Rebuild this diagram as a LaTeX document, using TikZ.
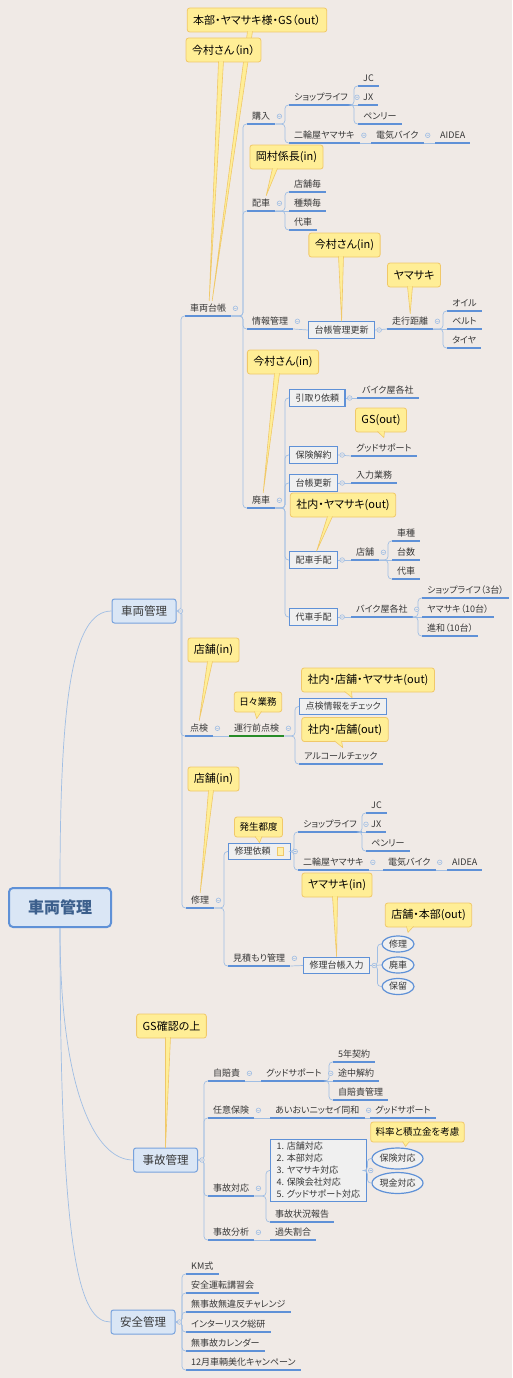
\documentclass[tikz,border=0pt]{standalone}
\usepackage{fontspec}
\setmainfont{Noto Sans CJK JP}[RawFeature=+palt]
\usepackage{xcolor}
\definecolor{PaperBg}    {RGB}{240,234,230}
\definecolor{LineBlue}   {RGB}{95,145,215}
\definecolor{BranchBlue} {RGB}{160,190,228}
\definecolor{BoxFill}    {RGB}{240,240,240}
\definecolor{TopicFill}  {RGB}{218,230,245}
\definecolor{RootText}   {RGB}{60,95,140}
\definecolor{NoteYellow} {RGB}{255,238,150}
\definecolor{NoteEdge}   {RGB}{240,200,105}
\definecolor{InkGray}    {RGB}{55,55,55}
\definecolor{CheckGreen} {RGB}{40,140,40}
\usepackage{tikz}
\usetikzlibrary{shapes.geometric, calc}

\begin{document}
\begin{tikzpicture}[
  x=1pt, y=1pt,
  font=\fontsize{9}{11}\selectfont,
  uline/.style={draw=#1, line width=1.1pt},
  topic/.style={
    anchor=south west, inner xsep=5pt, inner ysep=3pt,
    text height=7.5pt, text depth=1.5pt, text=InkGray,
    append after command={(\tikzlastnode.south west)
      edge[uline=#1] (\tikzlastnode.south east)}},
  topic/.default=LineBlue,
  boxed/.style={
    draw=LineBlue, line width=1.2pt, fill=BoxFill,
    anchor=west, inner xsep=6pt, inner ysep=0pt,
    minimum height=16.5pt, text height=7.5pt, text depth=1.5pt,
    text=InkGray},
  listbox/.style={
    draw=LineBlue, line width=1.2pt, fill=BoxFill,
    anchor=west, align=left, inner xsep=6pt, inner ysep=3pt,
    font=\fontsize{9}{12}\selectfont, text=InkGray},
  oval/.style={ellipse,
    draw=LineBlue, line width=1.2pt, fill=BoxFill,
    inner sep=0pt, minimum width=32pt, minimum height=16pt,
    text=InkGray},
  mainbox/.style={
    draw=LineBlue!85, line width=1pt, fill=TopicFill,
    rounded corners=2.5pt, font=\fontsize{11.5}{13}\selectfont,
    text=InkGray, minimum width=64pt, minimum height=24pt},
  rootbox/.style={
    draw=LineBlue, line width=2pt, fill=TopicFill,
    rounded corners=4pt, font=\fontsize{16}{18}\selectfont\bfseries,
    text=RootText, minimum width=102pt, minimum height=39pt},
  note/.style={
    draw=NoteEdge, line width=0.8pt, fill=NoteYellow,
    rounded corners=2.5pt, font=\fontsize{11}{13}\selectfont,
    inner xsep=6pt, minimum height=24pt},
  smallnote/.style={note,
    font=\fontsize{9.5}{11}\selectfont,
    inner xsep=5pt, minimum height=20pt},
  tail/.style={
    fill=NoteYellow, draw=NoteEdge,
    line width=0.6pt, line join=round},
  br/.style={draw=BranchBlue, line width=0.7pt, rounded corners=3.5pt},
  branch/.style={
    to path={-| ($(\tikztotarget)+(-4,0)$) -- (\tikztotarget)}},
  mk/.style={draw=BranchBlue, fill=PaperBg, line width=0.6pt}
]
\useasboundingbox (0,0) rectangle (512,-1378);
\fill[PaperBg] (0,0) rectangle (512,-1378);

\node[rootbox] (root) at (60,-907.5) {車両管理};
\node[mainbox] (kanri) at (144,-611) {車両管理};
\node[mainbox] (jiko) at (165.5,-1160) {事故管理};
\node[mainbox] (anzen) at (143,-1322) {安全管理};

\node[topic] (daicho) at (185,-316) {車両台帳};
\node[topic] (kounyu) at (247,-124) {購入};
\node[topic] (shop1) at (289,-105) {ショップライフ};
\node[topic] (jc1) at (358,-86) {JC};
\node[topic] (jx1) at (358,-105) {JX};
\node[topic] (penry1) at (358,-124) {ペンリー};
\node[topic] (yama1) at (289,-143) {二輪屋ヤマサキ};
\node[topic] (denki1) at (371,-143) {電気バイク};
\node[topic] (aidea1) at (435,-143) {AIDEA};
\node[topic] (haisha) at (247,-211) {配車};
\node[topic] (tenpo1) at (289,-192) {店舗毎};
\node[topic] (shurui) at (289,-211) {種類毎};
\node[topic] (daisha1) at (289,-230) {代車};
\node[topic] (joho) at (247,-329) {情報管理};
\node[boxed] (kousin) at (308,-330) {台帳管理更新};
\node[topic] (soukou) at (387,-329) {走行距離};
\node[topic] (oil) at (447,-311) {オイル};
\node[topic] (belt) at (447,-329) {ベルト};
\node[topic] (tire) at (447,-348) {タイヤ};
\node[topic] (haiki) at (247,-508) {廃車};
\node[boxed] (hikitori) at (289,-398) {引取り依頼};
\node[topic] (bike1) at (357,-398) {バイク屋各社};
\node[boxed] (kaiyaku) at (289,-455) {保険解約};
\node[topic] (good1) at (351,-456) {グッドサポート};
\node[boxed] (kousin2) at (289,-483) {台帳更新};
\node[topic] (nyuryoku) at (351,-483) {入力業務};
\node[boxed] (tehai) at (289,-560) {配車手配};
\node[topic] (tenpo2) at (351,-560) {店舗};
\node[topic] (shashu) at (392,-541) {車種};
\node[topic] (daisu) at (392,-560) {台数};
\node[topic] (daisha2) at (392,-579) {代車};
\node[boxed] (daitehai) at (289,-617) {代車手配};
\node[topic] (bike2) at (351,-617) {バイク屋各社};
\node[topic] (shop3) at (422,-598) {ショップライフ（3台）};
\node[topic] (yama10) at (422,-617) {ヤマサキ（10台）};
\node[topic] (shinwa) at (422,-636) {進和（10台）};

\node[topic] (tenken) at (185,-736) {点検};
\node[topic=CheckGreen] (unko) at (229,-736) {運行前点検};
\node[boxed] (check) at (299,-706.5) {点検情報をチェック};
\node[topic] (alcohol) at (299,-764) {アルコールチェック};

\node[topic] (shuri) at (186,-908) {修理};
\node[boxed] (irai) at (228,-851.5) {修理依頼\makebox[14pt]{}};
\node[topic] (shop2) at (298,-832) {ショップライフ};
\node[topic] (jc2) at (366,-813) {JC};
\node[topic] (jx2) at (366,-832) {JX};
\node[topic] (penry2) at (366,-851) {ペンリー};
\node[topic] (yama2) at (298,-870) {二輪屋ヤマサキ};
\node[topic] (denki2) at (383,-870) {電気バイク};
\node[topic] (aidea2) at (447,-870) {AIDEA};
\node[topic] (mitsumori) at (228,-966) {見積もり管理};
\node[boxed] (daicho2) at (303,-965.5) {修理台帳入力};
\node[oval] (o1) at (398,-944) {修理};
\node[oval] (o2) at (398,-965) {廃車};
\node[oval] (o3) at (398,-986.5) {保留};

\node[topic] (jibai) at (208,-1081) {自賠責};
\node[topic] (good2) at (261,-1081) {グッドサポート};
\node[topic] (keiyaku) at (333,-1062) {5年契約};
\node[topic] (tochu) at (333,-1081) {途中解約};
\node[topic] (jibaikanri) at (333,-1100) {自賠責管理};
\node[topic] (nini) at (208,-1118) {任意保険};
\node[topic] (aioi) at (270,-1118) {あいおいニッセイ同和};
\node[topic] (good3) at (370,-1118) {グッドサポート};
\node[topic] (taiou) at (208,-1196) {事故対応};
\node[listbox] (taiolist) at (270,-1170.5)
  {1. 店舗対応\\2. 本部対応\\3. ヤマサキ対応\\4. 保険会社対応\\5. グッドサポート対応};
\node[oval, minimum width=51pt, minimum height=21pt] (o4) at (397.5,-1158.5) {保険対応};
\node[oval, minimum width=51pt, minimum height=21pt] (o5) at (397.5,-1183) {現金対応};
\node[topic] (houkoku) at (270,-1222) {事故状況報告};
\node[topic] (bunseki) at (208,-1240) {事故分析};
\node[topic] (kashitsu) at (270,-1240) {過失割合};

\node[topic] (km) at (186,-1274) {KM式};
\node[topic] (koushu) at (186,-1293) {安全運転講習会};
\node[topic] (challenge) at (186,-1312) {無事故無違反チャレンジ};
\node[topic] (interrisk) at (186,-1332) {インターリスク総研};
\node[topic] (calendar) at (186,-1351) {無事故カレンダー};
\node[topic] (bika) at (186,-1370) {12月車輌美化キャンペーン};

\draw[br] (root.north) .. controls (60,-700) and (72,-611) .. (kanri.west);
\draw[br] (root.south) .. controls (60,-1090) and (95,-1160) .. (jiko.west);
\draw[br] (root.south) .. controls (60,-1260) and (80,-1322) .. (anzen.west);

\foreach \c in {daicho,tenken,shuri}
  \draw[br] (kanri.east) to[branch] (\c.south west);
\foreach \c in {kounyu,haisha,joho,haiki}
  \draw[br] (daicho.south east) to[branch] (\c.south west);
\foreach \c in {shop1,yama1}
  \draw[br] (kounyu.south east) to[branch] (\c.south west);
\foreach \c in {jc1,penry1}
  \draw[br] (shop1.south east) to[branch] (\c.south west);
\draw[br] (shop1.south east) -- (jx1.south west);
\draw[br] (yama1.south east) -- (denki1.south west)
  (denki1.south east) -- (aidea1.south west);
\foreach \c in {tenpo1,daisha1}
  \draw[br] (haisha.south east) to[branch] (\c.south west);
\draw[br] (haisha.south east) -- (shurui.south west);
\draw[br] (joho.south east) -- (kousin.west);
\draw[br] (kousin.east) -- (soukou.south west);
\foreach \c in {oil,tire}
  \draw[br] (soukou.south east) to[branch] (\c.south west);
\draw[br] (soukou.south east) -- (belt.south west);
\foreach \c in {hikitori,kaiyaku,kousin2,tehai,daitehai}
  \draw[br] (haiki.south east) to[branch] (\c.west);
\draw[br] (hikitori.east) -- (bike1.south west);
\draw[br] (kaiyaku.east) -- (good1.south west);
\draw[br] (kousin2.east) -- (nyuryoku.south west);
\draw[br] (tehai.east) -- (tenpo2.south west);
\draw[br] (daitehai.east) -- (bike2.south west);
\foreach \c in {shashu,daisha2}
  \draw[br] (tenpo2.south east) to[branch] (\c.south west);
\draw[br] (tenpo2.south east) -- (daisu.south west);
\foreach \c in {shop3,shinwa}
  \draw[br] (bike2.south east) to[branch] (\c.south west);
\draw[br] (bike2.south east) -- (yama10.south west);

\draw[br] (tenken.south east) -- (unko.south west);
\draw[br] (unko.south east) to[branch] (check.west);
\draw[br] (unko.south east) to[branch] (alcohol.south west);

\draw[br] (shuri.south east) to[branch] (irai.west);
\draw[br] (shuri.south east) to[branch] (mitsumori.south west);
\foreach \c in {shop2,yama2}
  \draw[br] (irai.east) to[branch] (\c.south west);
\foreach \c in {jc2,penry2}
  \draw[br] (shop2.south east) to[branch] (\c.south west);
\draw[br] (shop2.south east) -- (jx2.south west);
\draw[br] (yama2.south east) -- (denki2.south west)
  (denki2.south east) -- (aidea2.south west);
\draw[br] (mitsumori.south east) -- (daicho2.west);
\foreach \c in {o1,o3}
  \draw[br] (daicho2.east) to[branch] (\c.west);
\draw[br] (daicho2.east) -- (o2.west);

\foreach \c in {jibai,nini,taiou,bunseki}
  \draw[br] (jiko.east) to[branch] (\c.south west);
\draw[br] (jibai.south east) -- (good2.south west);
\foreach \c in {keiyaku,jibaikanri}
  \draw[br] (good2.south east) to[branch] (\c.south west);
\draw[br] (good2.south east) -- (tochu.south west);
\draw[br] (nini.south east) -- (aioi.south west)
  (aioi.south east) -- (good3.south west);
\draw[br] (taiou.south east) to[branch] (taiolist.west);
\draw[br] (taiou.south east) to[branch] (houkoku.south west);
\foreach \c in {o4,o5}
  \draw[br] (taiolist.east) to[branch] (\c.west);
\draw[br] (bunseki.south east) -- (kashitsu.south west);

\foreach \c in {km,koushu,challenge,interrisk,calendar,bika}
  \draw[br] (anzen.east) to[branch] (\c.south west);

\foreach \n in {kanri,daicho,kounyu,shop1,yama1,denki1,haisha,joho,
    kousin,soukou,haiki,hikitori,kaiyaku,kousin2,tehai,tenpo2,
    daitehai,bike2,tenken,unko,shuri,irai,shop2,yama2,denki2,
    mitsumori,daicho2,jiko,jibai,good2,nini,aioi,taiou,taiolist,
    bunseki,anzen}
  \draw[mk] ($(\n.east)+(4,0)$) circle (2.3pt) +(-1.2,0) -- +(1.2,0);

\draw[fill=NoteYellow!80, draw=NoteEdge, line width=0.4pt]
  ($(irai.east)+(-14,-4)$) rectangle ($(irai.east)+(-8,4)$);

\node[note] (cHonbu) at (257,-20) {本部・ヤマサキ様・GS（out）};
\path[tail] ($(cHonbu.south)+(-9.5,1)$) -- ($(daicho.north)+(4,0)$)
  -- ($(cHonbu.south)+(-4.5,1)$);
\node[note] (cImamura1) at (223.5,-50) {今村さん（in）};
\path[tail] ($(cImamura1.south)+(-5,1)$) -- ($(daicho.north)+(1,0)$)
  -- ($(cImamura1.south)+(0,1)$);
\node[note] (cOkamura) at (286.5,-157) {岡村係長(in)};
\path[tail] ($(cOkamura.south)+(-14,1)$) -- ($(haisha.north)+(5,0)$)
  -- ($(cOkamura.south)+(-9,1)$);
\node[note] (cImamura2) at (344.5,-245) {今村さん(in)};
\path[tail] ($(cImamura2.south)+(-6,1)$) -- (kousin.north)
  -- ($(cImamura2.south)+(-1,1)$);
\node[note] (cYama1) at (414,-275) {ヤマサキ};
\path[tail] ($(cYama1.south)+(-6.5,1)$) -- (soukou.north)
  -- ($(cYama1.south)+(-1.5,1)$);
\node[note] (cImamura3) at (283,-362) {今村さん(in)};
\path[tail] ($(cImamura3.south)+(-8.5,1)$) -- ($(haiki.north)+(2,0)$)
  -- ($(cImamura3.south)+(-3.5,1)$);
\node[note] (cGs) at (381,-420) {GS(out)};
\path[tail] ($(cGs.south)+(-3.5,1)$) -- ($(good1.north)+(0,3)$)
  -- ($(cGs.south)+(3.5,1)$);
\node[note] (cShanai) at (343,-505) {社内・ヤマサキ(out)};
\path[tail] ($(cShanai.south)+(-15.5,1)$) -- ($(tehai.north)+(3,0)$)
  -- ($(cShanai.south)+(-10.5,1)$);

\node[note] (cTenpo1) at (213.5,-650) {店舗(in)};
\path[tail] ($(cTenpo1.south)+(-6,1)$) -- (tenken.north)
  -- ($(cTenpo1.south)+(-1,1)$);
\node[smallnote] (cHibi) at (258,-702) {日々業務};
\path[tail] ($(cHibi.south)+(-3.5,1)$) -- ($(unko.north)+(0,2)$)
  -- ($(cHibi.south)+(3.5,1)$);
\node[note] (cSst) at (368,-680) {社内・店舗・ヤマサキ(out)};
\path[tail] ($(cSst.south)+(-23.5,1)$) -- ($(check.north)+(9,0)$)
  -- ($(cSst.south)+(-16.5,1)$);
\node[note] (cSt) at (345,-729.5) {社内・店舗(out)};
\path[tail] ($(cSt.south)+(-10.5,1)$) -- ($(alcohol.north)+(2,1)$)
  -- ($(cSt.south)+(-3.5,1)$);

\node[note] (cTenpo2) at (213.5,-779) {店舗(in)};
\path[tail] ($(cTenpo2.south)+(-5,1)$) -- (shuri.north)
  -- ($(cTenpo2.south)+(0,1)$);
\node[smallnote] (cHassei) at (258.5,-827) {発生都度};
\path[tail] ($(cHassei.south)+(-3.5,1)$) -- (irai.north)
  -- ($(cHassei.south)+(3.5,1)$);
\node[note] (cYama2) at (337,-885) {ヤマサキ(in)};
\path[tail] ($(cYama2.south)+(-4.5,1)$) -- (daicho2.north)
  -- ($(cYama2.south)+(0.5,1)$);
\node[note] (cTenHon) at (428.5,-915) {店舗・本部(out)};
\path[tail] ($(cTenHon.south)+(-22,1)$) -- ($(o1.north)+(10,3)$)
  -- ($(cTenHon.south)+(-15,1)$);

\node[note] (cGsKakunin) at (171.5,-1026) {GS確認の上};
\path[tail] ($(cGsKakunin.south)+(-6,1)$) -- (jiko.north)
  -- ($(cGsKakunin.south)+(-1,1)$);
\node[smallnote] (cRyoritsu) at (417.5,-1132) {料率と積立金を考慮};
\path[tail] ($(cRyoritsu.south)+(-15,1)$) -- ($(o4.north)+(8,1)$)
  -- ($(cRyoritsu.south)+(-8,1)$);
\end{tikzpicture}
\end{document}
